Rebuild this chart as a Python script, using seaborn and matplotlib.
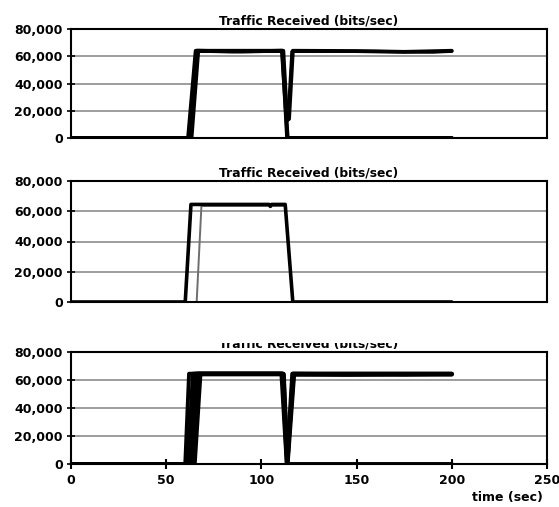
import matplotlib
matplotlib.use("Agg")
import matplotlib.pyplot as plt
from matplotlib.patches import Rectangle
import seaborn as sns

# ---------------- data ----------------
title_text = "Traffic Received (bits/sec)"
xlabel_text = "time (sec)"
y_ticks = [0, 20000, 40000, 60000, 80000]
y_tick_labels = ["0", "20,000", "40,000", "60,000", "80,000"]
x_ticks = [0, 50, 100, 150, 200, 250]
x_tick_labels = ["0", "50", "100", "150", "200", "250"]

# panel 1
p1_a_t = [0, 61.5, 65.5, 90, 110.8, 113.8, 200]
p1_a_v = [0, 0, 64000, 63600, 64000, 0, 0]
p1_b_t = [0, 62.5, 66.5, 85, 111.5, 113.5, 114.5, 116.5, 150, 175, 185, 200]
p1_b_v = [0, 0, 64000, 63500, 64000, 13000, 14000, 64000, 63800, 63200, 63500, 64000]
p1_c_t = [0, 63.5, 67.0, 111.2, 113.0, 114.2, 116.0, 160, 190, 200]
p1_c_v = [0, 0, 63500, 63500, 20000, 20000, 63500, 63600, 63000, 63600]
p1_d_t = [0, 62.0, 66.0, 111.0, 113.5, 200]
p1_d_v = [0, 0, 64000, 64000, 0, 0]

# panel 2
p2_black_t = [0, 60, 63, 104, 104.7, 105.4, 112.5, 116.5, 200]
p2_black_v = [0, 0, 64500, 64500, 63200, 64500, 64500, 0, 0]
p2_gray_t = [0, 66, 68.5, 112.5, 116.5, 200]
p2_gray_v = [0, 0, 63500, 63500, 0, 0]

# panel 3
p3_a_t = [0, 60.0, 62.0, 110.5, 113.3, 116.2, 200]
p3_a_v = [0, 0, 64500, 64500, 0, 64500, 64500]
p3_b_t = [0, 61.5, 64.0, 111.3, 113.6, 116.8, 150, 175, 200]
p3_b_v = [0, 0, 64500, 64500, 0, 64500, 64000, 63800, 64300]
p3_c_t = [0, 63.0, 66.0, 111.0, 113.5, 117.0, 145, 170, 200]
p3_c_v = [0, 0, 64500, 64500, 3000, 64000, 63700, 64200, 63900]
p3_d_t = [0, 65.0, 68.0, 111.8, 113.8, 117.2, 200]
p3_d_v = [0, 0, 64000, 64000, 0, 63800, 64000]
p3_e_t = [0, 62.2, 65.0, 111.6, 113.7, 116.5, 200]
p3_e_v = [0, 0, 64500, 64500, 0, 64500, 64500]
p3_f_t = [0, 64.0, 67.0, 111.0, 113.4, 200]
p3_f_v = [0, 0, 64500, 64500, 0, 0]

# ---------------- styling ----------------
sns.set_theme(style="white")
plt.rcParams["font.family"] = ["DejaVu Sans"]
plt.rcParams["font.weight"] = "bold"
plt.rcParams["text.color"] = "black"
plt.rcParams["xtick.color"] = "black"
plt.rcParams["ytick.color"] = "black"
plt.rcParams["axes.labelcolor"] = "black"

W, H = 559, 507
fig = plt.figure(figsize=(W / 100, H / 100), dpi=100)

left = 71 / W
width = (547 - 71) / W
panels_px = [(29, 138), (181, 302), (352, 464)]
axes = []
for top, bot in panels_px:
    ax = fig.add_axes([left, 1 - bot / H, width, (bot - top) / H])
    axes.append(ax)


def style_axis(ax, show_x):
    ax.set_xlim(0, 250)
    ax.set_ylim(0, 80000)
    ax.set_yticks(y_ticks)
    ax.set_yticklabels(y_tick_labels, fontsize=9, fontweight="bold", color="black")
    for y in y_ticks[1:-1]:
        ax.axhline(y, color="#8c8c8c", lw=1.2, zorder=0)
    for s in ax.spines.values():
        s.set_visible(True)
        s.set_color("black")
        s.set_linewidth(1.5)
    ax.tick_params(axis="y", direction="inout", length=6, width=1.2,
                   color="black", pad=3, left=True)
    if show_x:
        ax.set_xticks(x_ticks)
        ax.set_xticklabels(x_tick_labels, fontsize=9, fontweight="bold", color="black")
        ax.tick_params(axis="x", direction="inout", length=7, width=1.5,
                       color="black", pad=4, bottom=True)
    else:
        ax.set_xticks([])
    ax.set_xlabel("")
    ax.set_ylabel("")
    ax.set_title(title_text, fontsize=8.8, fontweight="bold", pad=3, color="black")


def draw(ax, t, v, color="black", lw=2.8):
    sns.lineplot(x=t, y=v, ax=ax, color=color, linewidth=lw,
                 estimator=None, sort=False, legend=False)


ax1, ax2, ax3 = axes
draw(ax1, p1_a_t, p1_a_v)
draw(ax1, p1_d_t, p1_d_v)
draw(ax1, p1_b_t, p1_b_v)
draw(ax1, p1_c_t, p1_c_v, lw=2.2)

draw(ax2, p2_gray_t, p2_gray_v, color="#6e6e6e", lw=1.4)
draw(ax2, p2_black_t, p2_black_v, lw=2.6)

for t, v in [(p3_a_t, p3_a_v), (p3_e_t, p3_e_v), (p3_b_t, p3_b_v),
             (p3_f_t, p3_f_v), (p3_c_t, p3_c_v), (p3_d_t, p3_d_v)]:
    draw(ax3, t, v)

style_axis(ax1, False)
style_axis(ax2, False)
style_axis(ax3, True)

# the scan cuts off the upper half of the third title
fig.patches.append(Rectangle((200 / W, 1 - 343 / H), 220 / W, 14 / H,
                             transform=fig.transFigure, facecolor="white",
                             edgecolor="none", zorder=10))

ax3.set_xlabel(xlabel_text, fontsize=9, fontweight="bold", loc="right", color="black")
ax3.xaxis.set_label_coords(1 - 4 / (547 - 71), -0.245)

fig.savefig("out.png", dpi=100, facecolor="white")
